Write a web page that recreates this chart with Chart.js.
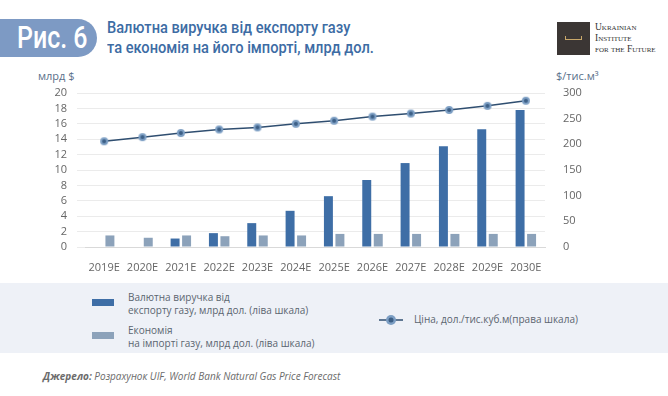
<!DOCTYPE html>
<html lang="uk">
<head>
<meta charset="UTF-8">
<title>Рис. 6</title>
<script src="https://cdn.jsdelivr.net/npm/chart.js"></script>
<style>
  body { margin: 0; width: 668px; height: 396px; background: #fff; position: relative; overflow: hidden; font-family: "Open Sans", sans-serif; }
  .badge { position: absolute; left: 0; top: 19px; width: 97px; height: 38px; background: #7d9ac4; border-radius: 0 19px 19px 0; }
  .badge span { position: absolute; left: 17px; top: -1px; color: #fff; font: 500 32px/38px "Roboto", sans-serif; transform: scaleX(0.78); transform-origin: left center; white-space: nowrap; }
  .title { position: absolute; left: 107px; top: 17px; color: #3d6ca4; font: 500 17px/20px "Roboto", sans-serif; transform: scaleX(0.86); transform-origin: left top; white-space: nowrap; }
  .logo { position: absolute; left: 557px; top: 22px; width: 33px; height: 33px; background: #3b3634; }
  .logo i { position: absolute; left: 8px; top: 14px; width: 17px; height: 4px; border: 1px solid #c9a86a; border-top: none; box-sizing: border-box; }
  .logotext { position: absolute; left: 595px; top: 22px; font: 9.5px/11px "Liberation Serif", serif; font-variant: small-caps; color: #333; }
  .axt { position: absolute; top: 68px; font-size: 11px; color: #5a6f8a; }
  #wrap { position: absolute; left: 0; top: 62px; width: 668px; height: 220px; }
  .legend { position: absolute; left: 0; top: 283px; width: 668px; height: 70px; background: #eef1f7; font-size: 10px; color: #5b6570; }
  .sw { position: absolute; width: 22px; height: 7px; }
  .lt { position: absolute; line-height: 13px; white-space: nowrap; }
  .src { position: absolute; left: 43px; top: 369px; font-size: 10px; font-style: italic; color: #6b6b6b; }
</style>
</head>
<body>
<div class="badge"><span>Рис. 6</span></div>
<div class="title">Валютна виручка від експорту газу<br>та економія на його імпорті, млрд дол.</div>
<div class="logo"><i></i></div>
<div class="logotext">Ukrainian<br>Institute<br>for the Future</div>
<div class="axt" style="left:38px">млрд $</div>
<div class="axt" style="left:556px">$/тис.м³</div>
<div id="wrap"><canvas id="myChart" width="668" height="220"></canvas></div>
<div class="legend">
  <div class="sw" style="left:92px;top:16px;background:#3e6ea6"></div>
  <div class="lt" style="left:128px;top:8px">Валютна виручка від<br>експорту газу, млрд дол. (ліва шкала)</div>
  <div class="sw" style="left:92px;top:49px;background:#8ca2ba"></div>
  <div class="lt" style="left:128px;top:41px">Економія<br>на імпорті газу, млрд дол. (ліва шкала)</div>
  <canvas id="lineKey" width="24" height="14" style="position:absolute;left:379px;top:30px"></canvas>
  <div class="lt" style="left:414px;top:30px">Ціна, дол./тис.куб.м(права шкала)</div>
</div>
<div class="src"><b>Джерело:</b> Розрахунок UIF, World Bank Natural Gas Price Forecast</div>
<script>
const years = ['2019E','2020E','2021E','2022E','2023E','2024E','2025E','2026E','2027E','2028E','2029E','2030E'];
const exportRevenue = [0, 0, 1.1, 1.8, 3.1, 4.7, 6.6, 8.7, 10.9, 13.1, 15.3, 17.8];
const importSavings = [1.5, 1.2, 1.5, 1.4, 1.5, 1.5, 1.7, 1.7, 1.7, 1.7, 1.7, 1.7];
const gasPrice = [206, 214, 222, 229, 233, 240, 246, 254, 260, 267, 275, 285];
const leftTicks = [0, 2, 4, 6, 8, 10, 12, 14, 16, 18, 20];
const rightTicks = [0, 50, 100, 150, 200, 250, 300];

const lineColor = '#2f4e70';
const pointFill = '#7d9fc4';
const tickFont = { family: 'Open Sans', size: 11 };
const tickColor = '#666';

// marker: light ring with a dark centre, used for points and the legend key
function marker(r) {
  const c = document.createElement('canvas');
  c.width = c.height = r * 2 + 2;
  const g = c.getContext('2d');
  g.fillStyle = pointFill; g.beginPath(); g.arc(r + 1, r + 1, r, 0, Math.PI * 2); g.fill();
  g.fillStyle = '#3c5f86'; g.beginPath(); g.arc(r + 1, r + 1, r * 0.5, 0, Math.PI * 2); g.fill();
  return c;
}
const pt = marker(4);

const k = document.getElementById('lineKey').getContext('2d');
k.strokeStyle = lineColor; k.lineWidth = 1.5;
k.beginPath(); k.moveTo(0, 7); k.lineTo(24, 7); k.stroke();
k.drawImage(marker(5), 6, 1);

new Chart(document.getElementById('myChart'), {
  data: {
    labels: years,
    datasets: [
      {
        type: 'line', label: 'Ціна', data: gasPrice, yAxisID: 'y1',
        borderColor: lineColor, borderWidth: 1.5,
        pointStyle: pt, pointRadius: 4,
        order: 0
      },
      {
        type: 'bar', label: 'Валютна виручка', data: exportRevenue, yAxisID: 'y',
        backgroundColor: '#3e6ea6', categoryPercentage: 0.6, barPercentage: 0.78, order: 1
      },
      {
        type: 'bar', label: 'Економія', data: importSavings, yAxisID: 'y',
        backgroundColor: '#8ca2ba', categoryPercentage: 0.6, barPercentage: 0.78, order: 1
      }
    ]
  },
  options: {
    responsive: false,
    animation: false,
    layout: { padding: { top: 31, bottom: 0, left: 0, right: 0 } },
    plugins: { legend: { display: false }, tooltip: { enabled: false } },
    scales: {
      x: {
        grid: { display: false },
        border: { color: '#d9d9d9' },
        ticks: { font: tickFont, color: tickColor, padding: 6, autoSkip: false, maxRotation: 0 },
        afterFit: s => { s.height = 35; }
      },
      y: {
        position: 'left', min: 0, max: 20,
        afterBuildTicks: s => { s.ticks = leftTicks.map(v => ({ value: v })); },
        grid: { color: '#ebebeb' },
        border: { display: false },
        ticks: { font: tickFont, color: tickColor, padding: 10, autoSkip: false },
        afterFit: s => { s.width = 85; }
      },
      y1: {
        position: 'right', min: 0, max: 300,
        afterBuildTicks: s => { s.ticks = rightTicks.map(v => ({ value: v })); },
        grid: { display: false },
        border: { display: false },
        ticks: { font: tickFont, color: tickColor, padding: 10, autoSkip: false },
        afterFit: s => { s.width = 123; }
      }
    }
  }
});
</script>
</body>
</html>
